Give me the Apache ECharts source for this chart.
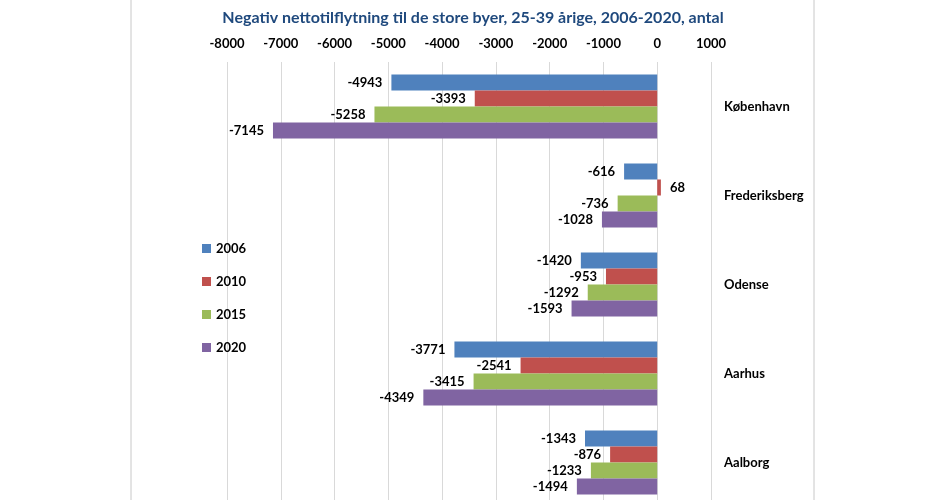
<!DOCTYPE html>
<html><head><meta charset="utf-8">
<script src="https://cdn.jsdelivr.net/npm/echarts@6/dist/echarts.min.js"></script>
<style>html,body{margin:0;padding:0;background:#fff}#c{width:946px;height:500px}</style>
</head><body><div id="c"></div>
<script>
const categories = ['København', 'Frederiksberg', 'Odense', 'Aarhus', 'Aalborg'];
const years = ['2006', '2010', '2015', '2020'];
const v2006 = [-4943, -616, -1420, -3771, -1343];
const v2010 = [-3393, 68, -953, -2541, -876];
const v2015 = [-5258, -736, -1292, -3415, -1233];
const v2020 = [-7145, -1028, -1593, -4349, -1494];
const xTicks = [-8000, -7000, -6000, -5000, -4000, -3000, -2000, -1000, 0, 1000];
const colors = ['#4F81BD', '#C0504D', '#9BBB59', '#8064A2'];
const FONT = 'Lato';

const seriesVals = [v2006, v2010, v2015, v2020];
const chart = echarts.init(document.getElementById('c'), null, {renderer: 'canvas'});
chart.setOption({
  animation: false,
  backgroundColor: '#fff',
  title: {
    text: 'Negativ nettotilflytning til de store byer, 25-39 årige, 2006-2020, antal',
    left: 'center', top: 5,
    textStyle: {fontFamily: FONT, fontWeight: 'bold', fontSize: 16, color: '#1F497D'}
  },
  legend: {
    orient: 'vertical', left: 197, top: 237,
    itemWidth: 9, itemHeight: 9, itemGap: 20,
    icon: 'rect',
    data: years,
    textStyle: {fontFamily: FONT, fontWeight: 'bold', fontSize: 13, color: '#000'}
  },
  grid: {left: 227, right: 235, top: 62, height: 445, containLabel: false, outerBoundsMode: 'none'},
  xAxis: {
    type: 'value', position: 'top', min: xTicks[0], max: xTicks[xTicks.length - 1], interval: 1000,
    axisLine: {show: false}, axisTick: {show: false},
    axisLabel: {margin: 12, fontFamily: FONT, fontWeight: 'bold', fontSize: 13, color: '#000',
      formatter: v => String(v)},
    splitLine: {show: true, lineStyle: {color: '#d9d9d9', width: 1}}
  },
  yAxis: {
    type: 'category', data: categories, inverse: true, position: 'right',
    axisLine: {show: false}, axisTick: {show: false},
    axisLabel: {margin: 13, align: 'left', fontFamily: FONT, fontWeight: 'bold', fontSize: 13, color: '#000'},
    splitLine: {show: false}
  },
  graphic: [
    {type: 'line', shape: {x1: 131, y1: 0, x2: 131, y2: 500}, style: {stroke: '#c8c8c8', lineWidth: 1}},
    {type: 'line', shape: {x1: 814, y1: 0, x2: 814, y2: 500}, style: {stroke: '#c8c8c8', lineWidth: 1}}
  ],
  series: years.map((y, i) => ({
    name: y, type: 'bar', barGap: '0%', barCategoryGap: '28%',
    itemStyle: {color: colors[i]},
    label: {show: true, fontFamily: FONT, fontWeight: 'bold', fontSize: 13, color: '#000', distance: 9},
    data: seriesVals[i].map(v => ({value: v, label: {position: v < 0 ? 'left' : 'right'}}))
  }))
});
</script></body></html>
